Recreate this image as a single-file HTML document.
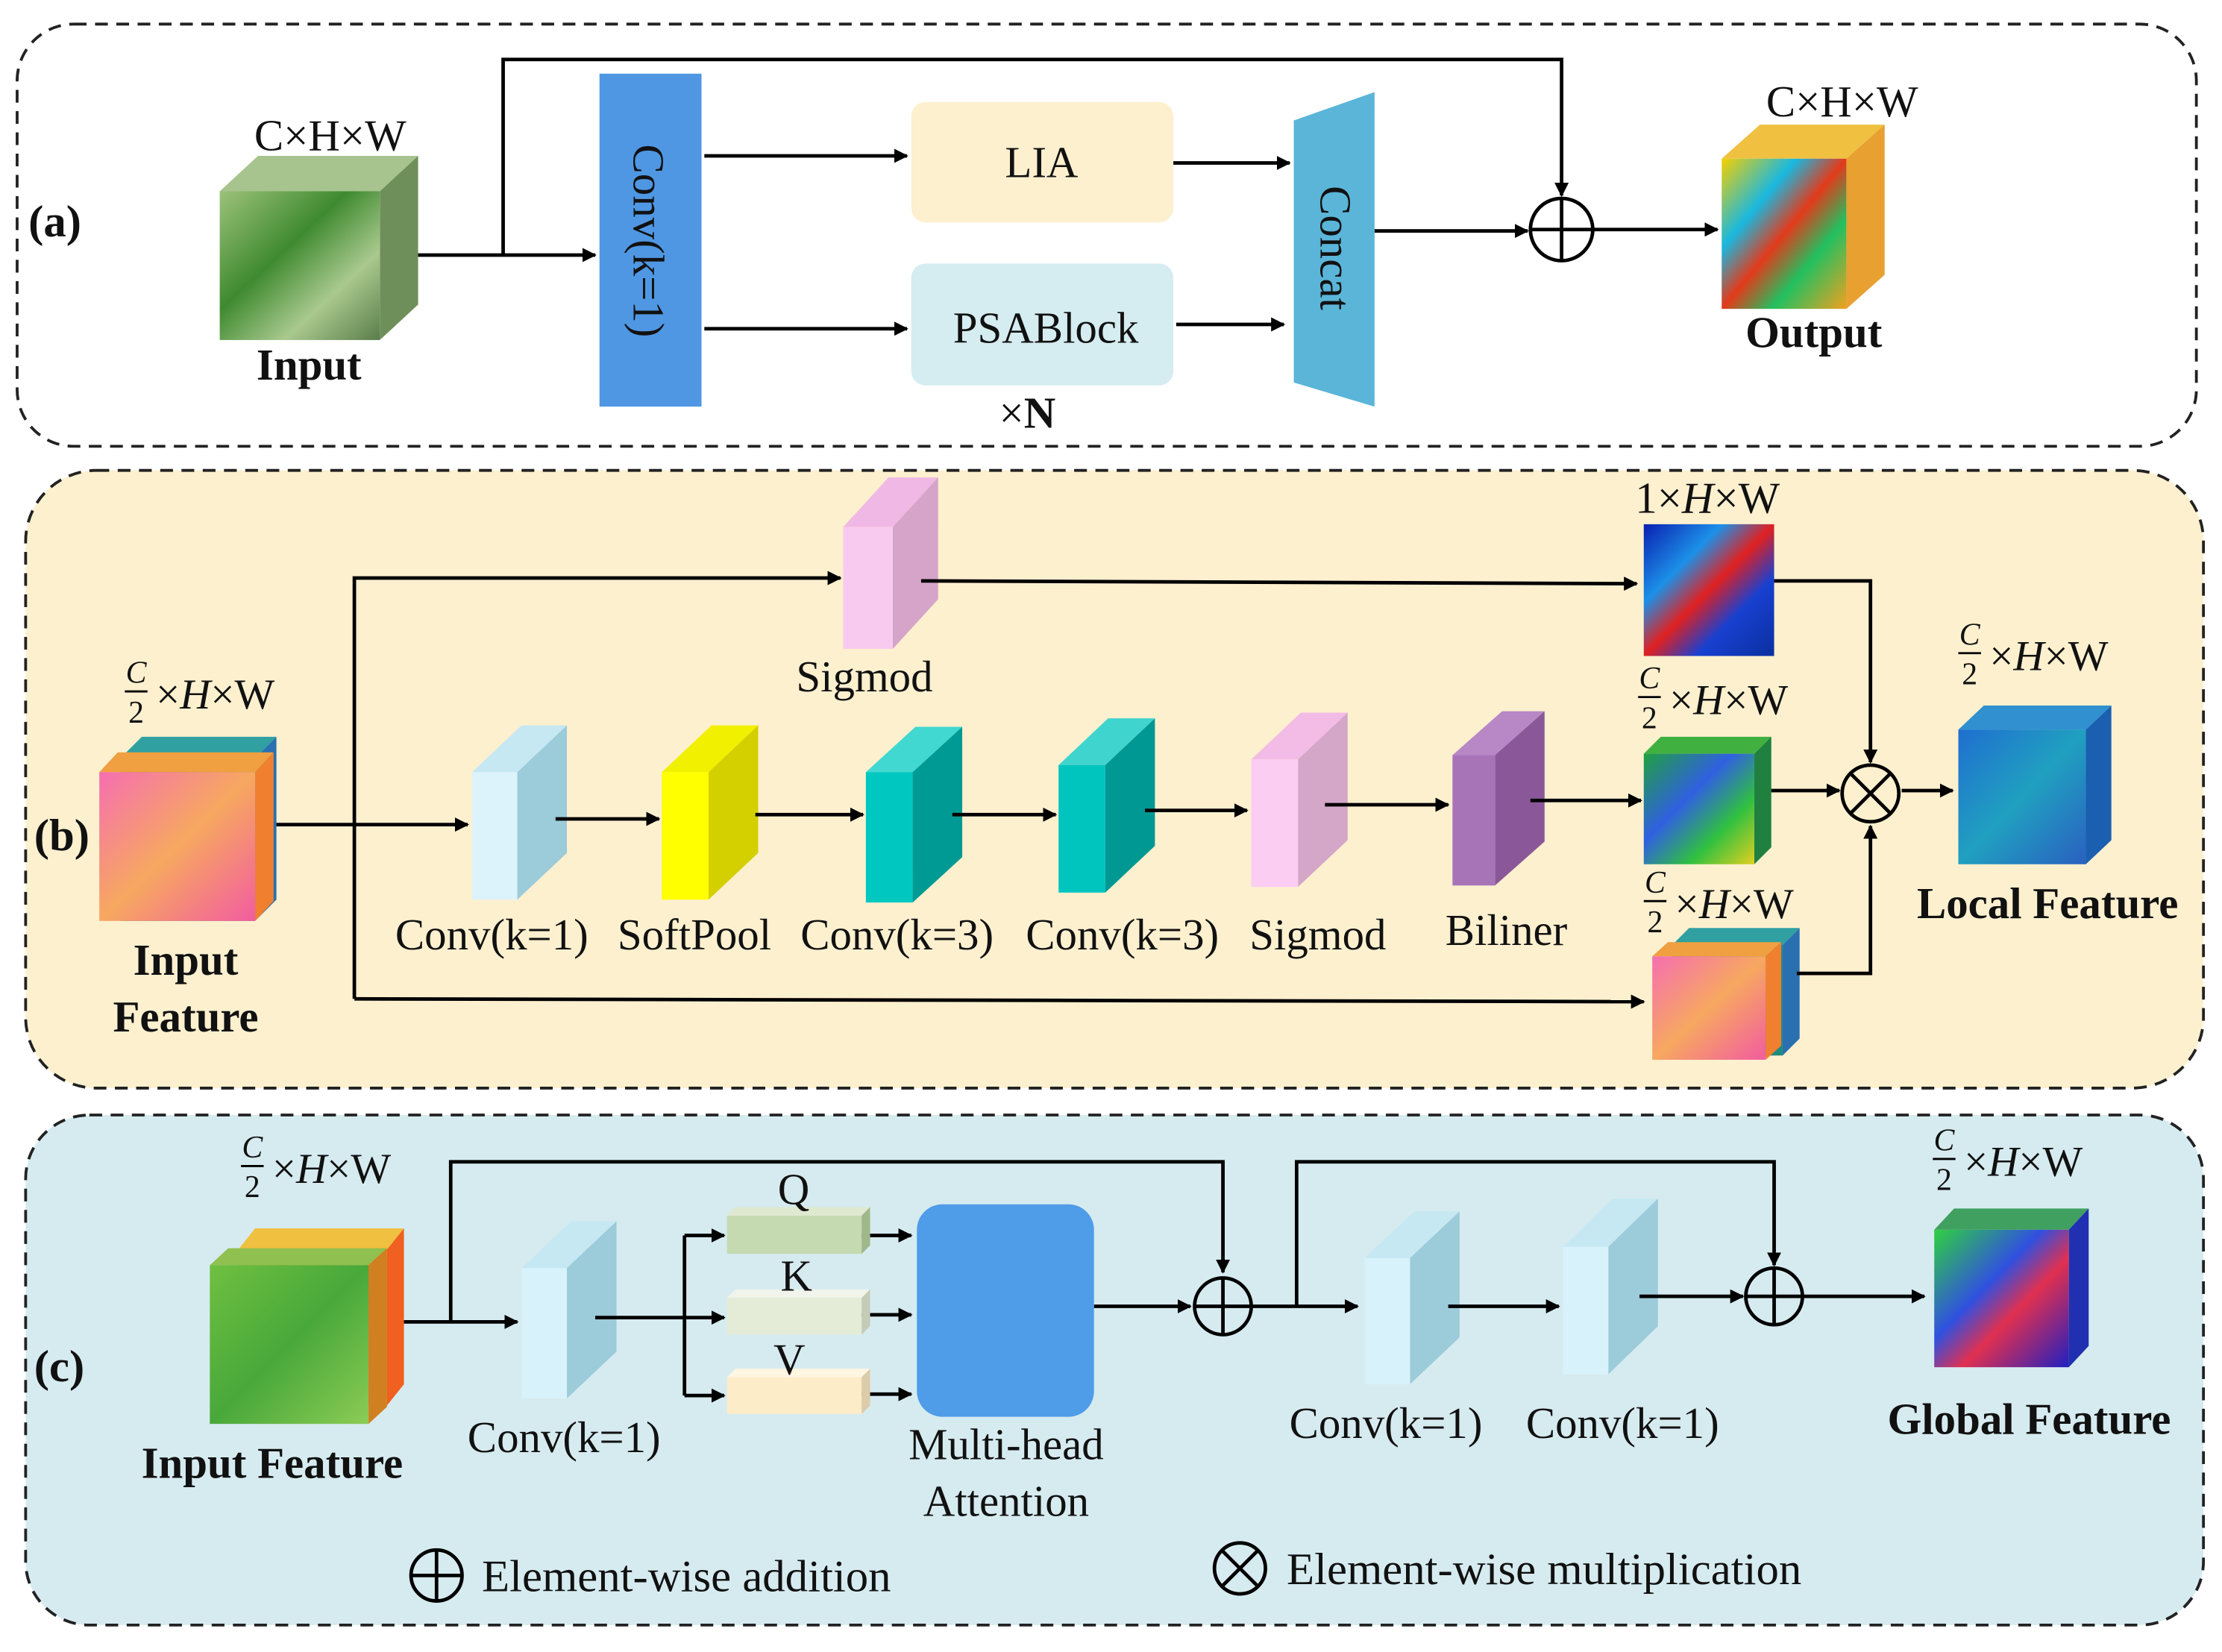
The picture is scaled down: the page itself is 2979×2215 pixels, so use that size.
<!DOCTYPE html>
<html><head><meta charset="utf-8">
<style>
html,body{margin:0;padding:0;background:#fff;}
svg{display:block;}
text{font-family:"Liberation Serif",serif;fill:#111;}
</style></head>
<body>
<svg width="2979" height="2215" viewBox="0 0 1568 1166" xmlns="http://www.w3.org/2000/svg">
<defs>
<marker id="ar" markerWidth="10" markerHeight="10" refX="9" refY="5" orient="auto" markerUnits="userSpaceOnUse"><path d="M0,0 L10,5 L0,10 z" fill="#000"/></marker>
<linearGradient id="gGreen" x1="0" y1="0" x2="1" y2="1"><stop offset="0" stop-color="#9cc27a"/><stop offset="0.4" stop-color="#3f8a30"/><stop offset="0.7" stop-color="#a9c98e"/><stop offset="1" stop-color="#5a7d4a"/></linearGradient>
<linearGradient id="gHeat" x1="0" y1="0" x2="1" y2="1"><stop offset="0" stop-color="#f5d000"/><stop offset="0.3" stop-color="#19b8e0"/><stop offset="0.5" stop-color="#e33a1a"/><stop offset="0.7" stop-color="#22c060"/><stop offset="1" stop-color="#f0a020"/></linearGradient>
<linearGradient id="gPink" x1="0" y1="0" x2="1" y2="1"><stop offset="0" stop-color="#f56fb0"/><stop offset="0.5" stop-color="#f7a860"/><stop offset="1" stop-color="#f25ca0"/></linearGradient>
<linearGradient id="gBlueMap" x1="0" y1="0" x2="1" y2="1"><stop offset="0" stop-color="#0a1fb0"/><stop offset="0.3" stop-color="#1c90e8"/><stop offset="0.5" stop-color="#e02020"/><stop offset="0.7" stop-color="#1840d0"/><stop offset="1" stop-color="#0a2fa0"/></linearGradient>
<linearGradient id="gMid" x1="0" y1="0" x2="1" y2="1"><stop offset="0" stop-color="#20a040"/><stop offset="0.4" stop-color="#3060e0"/><stop offset="0.7" stop-color="#30c040"/><stop offset="1" stop-color="#e0d020"/></linearGradient>
<linearGradient id="gLocal" x1="0" y1="0" x2="1" y2="1"><stop offset="0" stop-color="#1f6fd0"/><stop offset="0.5" stop-color="#20a0c0"/><stop offset="1" stop-color="#2a60c0"/></linearGradient>
<linearGradient id="gGlobal" x1="0" y1="0" x2="1" y2="1"><stop offset="0" stop-color="#30d040"/><stop offset="0.4" stop-color="#3050e0"/><stop offset="0.6" stop-color="#e03050"/><stop offset="1" stop-color="#2020c0"/></linearGradient>
<linearGradient id="gInC" x1="0" y1="0" x2="1" y2="1"><stop offset="0" stop-color="#6fc040"/><stop offset="0.5" stop-color="#48a83a"/><stop offset="1" stop-color="#8ccc55"/></linearGradient>
</defs>

<rect x="12" y="17" width="1538" height="298" rx="40" fill="#fff" stroke="#222" stroke-width="2" stroke-dasharray="9,6"/>
<rect x="18" y="332" width="1537" height="436" rx="50" fill="#fdf0cf" stroke="#222" stroke-width="2" stroke-dasharray="9,6"/>
<rect x="18" y="787" width="1537" height="360" rx="45" fill="#d6ebf0" stroke="#222" stroke-width="2" stroke-dasharray="9,6"/>

<!-- boxes -->
<g>
<polygon points="155,135 182,110 295,110 268,135" fill="#a7c48e"/><polygon points="268,135 295,110 295,215 268,240" fill="#6f8f5a"/><rect x="155" y="135" width="113" height="105" fill="url(#gGreen)"/>
<polygon points="1215,112 1242,88 1330,88 1303,112" fill="#f0c040"/><polygon points="1303,112 1330,88 1330,194 1303,218" fill="#e8a030"/><rect x="1215" y="112" width="88" height="106" fill="url(#gHeat)"/>

<polygon points="595,372 627,337 662,337 630,372" fill="#f0b8e4"/><polygon points="630,372 662,337 662,423 630,458" fill="#d6a4c8"/><rect x="595" y="372" width="35" height="86" fill="#f8caf0"/>
<rect x="1160" y="370" width="92" height="93" fill="url(#gBlueMap)"/>
<polygon points="85,535 100,520 195,520 180,535" fill="#30a0a0"/><polygon points="180,535 195,520 195,635 180,650" fill="#2a70b0"/><rect x="85" y="535" width="95" height="115" fill="#1e8a80"/>
<polygon points="70,545 83,531 193,531 180,545" fill="#f0a040"/><polygon points="180,545 193,531 193,636 180,650" fill="#f08030"/><rect x="70" y="545" width="110" height="105" fill="url(#gPink)"/>
<polygon points="333,545 368,512 400,512 365,545" fill="#c5e8f3"/><polygon points="365,545 400,512 400,602 365,635" fill="#9ccbd9"/><rect x="333" y="545" width="32" height="90" fill="#ddf3fb"/>
<polygon points="467,545 502,512 535,512 500,545" fill="#f0f000"/><polygon points="500,545 535,512 535,602 500,635" fill="#d4d000"/><rect x="467" y="545" width="33" height="90" fill="#ffff00"/>
<polygon points="611,545 646,513 679,513 644,545" fill="#40d8d0"/><polygon points="644,545 679,513 679,605 644,637" fill="#009a94"/><rect x="611" y="545" width="33" height="92" fill="#00c8c0"/>
<polygon points="747,540 782,507 815,507 780,540" fill="#40d4ce"/><polygon points="780,540 815,507 815,597 780,630" fill="#009892"/><rect x="747" y="540" width="33" height="90" fill="#00c4be"/>
<polygon points="883,536 918,503 951,503 916,536" fill="#f2bce6"/><polygon points="916,536 951,503 951,593 916,626" fill="#d4a6c8"/><rect x="883" y="536" width="33" height="90" fill="#fbcdf2"/>
<polygon points="1025,533 1060,502 1090,502 1055,533" fill="#b888c6"/><polygon points="1055,533 1090,502 1090,594 1055,625" fill="#8a5898"/><rect x="1025" y="533" width="30" height="92" fill="#a874b8"/>
<polygon points="1160,532 1172,520 1250,520 1238,532" fill="#40b040"/><polygon points="1238,532 1250,520 1250,598 1238,610" fill="#208040"/><rect x="1160" y="532" width="78" height="78" fill="url(#gMid)"/>
<polygon points="1180,667 1192,655 1270,655 1258,667" fill="#30a0a0"/><polygon points="1258,667 1270,655 1270,733 1258,745" fill="#2a70b0"/><rect x="1180" y="667" width="78" height="78" fill="#1e8a80"/>
<polygon points="1166,675 1177,665 1257,665 1246,675" fill="#f0a040"/><polygon points="1246,675 1257,665 1257,738 1246,748" fill="#f08030"/><rect x="1166" y="675" width="80" height="73" fill="url(#gPink)"/>
<polygon points="1382,515 1400,498 1490,498 1472,515" fill="#3090d0"/><polygon points="1472,515 1490,498 1490,593 1472,610" fill="#1a5fb0"/><rect x="1382" y="515" width="90" height="95" fill="url(#gLocal)"/>

<polygon points="168,882 180,867 285,867 273,882" fill="#f0c040"/><polygon points="273,882 285,867 285,977 273,992" fill="#f06020"/><rect x="168" y="882" width="105" height="110" fill="#e09020"/>
<polygon points="148,893 161,881 273,881 260,893" fill="#90c050"/><polygon points="260,893 273,881 273,993 260,1005" fill="#d08020"/><rect x="148" y="893" width="112" height="112" fill="url(#gInC)"/>
<polygon points="368,895 403,862 435,862 400,895" fill="#c5e8f3"/><polygon points="400,895 435,862 435,954 400,987" fill="#9ccbd9"/><rect x="368" y="895" width="32" height="92" fill="#d8f2fb"/>
<polygon points="963,888 998,855 1030,855 995,888" fill="#c5e8f3"/><polygon points="995,888 1030,855 1030,944 995,977" fill="#9ccbd9"/><rect x="963" y="888" width="32" height="89" fill="#d8f2fb"/>
<polygon points="1103,880 1138,846 1170,846 1135,880" fill="#c5e8f3"/><polygon points="1135,880 1170,846 1170,936 1135,970" fill="#9ccbd9"/><rect x="1103" y="880" width="32" height="90" fill="#d8f2fb"/>
<polygon points="1365,868 1379,853 1474,853 1460,868" fill="#40a060"/><polygon points="1460,868 1474,853 1474,950 1460,965" fill="#2030b0"/><rect x="1365" y="868" width="95" height="97" fill="url(#gGlobal)"/>
</g>

<g stroke="#000" stroke-width="2.5" fill="none">
<path d="M295,180 L420,180" marker-end="url(#ar)"/>
<path d="M355,180 L355,42 L1102,42 L1102,138" marker-end="url(#ar)"/>
<path d="M497,110 L640,110" marker-end="url(#ar)"/>
<path d="M497,232 L640,232" marker-end="url(#ar)"/>
<path d="M822,115 L910,115" marker-end="url(#ar)"/>
<path d="M830,229 L906,229" marker-end="url(#ar)"/>
<path d="M970,163 L1078,163" marker-end="url(#ar)"/>
<path d="M1125,162 L1212,162" marker-end="url(#ar)"/>
<circle cx="1102" cy="162" r="22"/><path d="M1080,162 H1124 M1102,140 V184"/>
<path d="M250,705 L250,408 L593,408" marker-end="url(#ar)"/>
<path d="M650,410 L1155,412" marker-end="url(#ar)"/>
<path d="M1252,410 L1320,410 L1320,538" marker-end="url(#ar)"/>
<path d="M195,582 L330,582" marker-end="url(#ar)"/>
<path d="M392,578 L465,578" marker-end="url(#ar)"/>
<path d="M533,575 L609,575" marker-end="url(#ar)"/>
<path d="M672,575 L745,575" marker-end="url(#ar)"/>
<path d="M808,572 L880,572" marker-end="url(#ar)"/>
<path d="M935,568 L1022,568" marker-end="url(#ar)"/>
<path d="M1080,565 L1158,565" marker-end="url(#ar)"/>
<path d="M1250,558 L1298,558" marker-end="url(#ar)"/>
<path d="M1342,558 L1378,558" marker-end="url(#ar)"/>
<path d="M250,705 L1160,707" marker-end="url(#ar)"/>
<path d="M1268,687 L1320,687 L1320,583" marker-end="url(#ar)"/>
<circle cx="1320" cy="560" r="20"/><path d="M1306,546 L1334,574 M1334,546 L1306,574"/>
<path d="M285,933 L365,933" marker-end="url(#ar)"/>
<path d="M318,933 L318,820 L863,820 L863,898" marker-end="url(#ar)"/>
<path d="M420,930 L483,930"/>
<path d="M483,872 L483,985"/>
<path d="M483,872 L511,872" marker-end="url(#ar)"/>
<path d="M483,930 L511,930" marker-end="url(#ar)"/>
<path d="M483,985 L511,985" marker-end="url(#ar)"/>
<path d="M608,872 L643,872" marker-end="url(#ar)"/>
<path d="M608,928 L643,928" marker-end="url(#ar)"/>
<path d="M608,984 L643,984" marker-end="url(#ar)"/>
<path d="M772,922 L840,922" marker-end="url(#ar)"/>
<circle cx="863" cy="922" r="20"/><path d="M843,922 H883 M863,902 V942"/>
<path d="M883,922 L958,922" marker-end="url(#ar)"/>
<path d="M915,922 L915,820 L1252,820 L1252,893" marker-end="url(#ar)"/>
<path d="M1022,922 L1100,922" marker-end="url(#ar)"/>
<path d="M1157,915 L1230,915" marker-end="url(#ar)"/>
<circle cx="1252" cy="915" r="20"/><path d="M1232,915 H1272 M1252,895 V935"/>
<path d="M1272,915 L1358,915" marker-end="url(#ar)"/>
<circle cx="308" cy="1112" r="18"/><path d="M290,1112 H326 M308,1094 V1130"/>
<circle cx="875" cy="1107" r="18"/><path d="M862,1094 L888,1120 M888,1094 L862,1120"/>
</g>

<rect x="423" y="52" width="72" height="235" fill="#4f97e3"/>
<rect x="643" y="72" width="185" height="85" rx="10" fill="#fdf0cf"/>
<rect x="643" y="186" width="185" height="86" rx="10" fill="#d5ecf0"/>
<polygon points="913,85 970,65 970,287 913,270" fill="#5bb5d8"/>
<rect x="647" y="850" width="125" height="150" rx="18" fill="#4f9ce8"/>
<rect x="513" y="858" width="95" height="27" fill="#c5dab0"/><polygon points="513,858 519,852 614,852 608,858" fill="#dfe9d0"/><polygon points="608,858 614,852 614,879 608,885" fill="#9fb88a"/>
<rect x="513" y="916" width="95" height="26" fill="#e4ecd8"/><polygon points="513,916 519,910 614,910 608,916" fill="#f0f4ea"/><polygon points="608,916 614,910 614,936 608,942" fill="#c4ccb8"/>
<rect x="513" y="972" width="95" height="26" fill="#fcecc8"/><polygon points="513,972 519,966 614,966 608,972" fill="#fff6e2"/><polygon points="608,972 614,966 614,992 608,998" fill="#dcccaa"/>

<g font-size="31">
<text x="20" y="167" font-weight="bold" font-size="32">(a)</text>
<text x="24" y="600" font-weight="bold" font-size="32">(b)</text>
<text x="24" y="975" font-weight="bold" font-size="32">(c)</text>
<text x="233" y="106" text-anchor="middle">C×H×W</text>
<text x="218" y="268" text-anchor="middle" font-weight="bold">Input</text>
<text x="1300" y="82" text-anchor="middle">C×H×W</text>
<text x="1280" y="245" text-anchor="middle" font-weight="bold">Output</text>
<text x="735" y="125" text-anchor="middle">LIA</text>
<text x="738" y="242" text-anchor="middle">PSABlock</text>
<text x="725" y="302" text-anchor="middle">×<tspan font-weight="bold">N</tspan></text>
<text transform="translate(447,170) rotate(90)" text-anchor="middle">Conv(k=1)</text>
<text transform="translate(932,175) rotate(90)" text-anchor="middle">Concat</text>
<text x="610" y="488" text-anchor="middle">Sigmod</text>
<text x="1205" y="362" text-anchor="middle">1×<tspan font-style="italic">H</tspan>×W</text>
<text x="347" y="670" text-anchor="middle">Conv(k=1)</text>
<text x="490" y="670" text-anchor="middle">SoftPool</text>
<text x="633" y="670" text-anchor="middle">Conv(k=3)</text>
<text x="792" y="670" text-anchor="middle">Conv(k=3)</text>
<text x="930" y="670" text-anchor="middle">Sigmod</text>
<text x="1063" y="667" text-anchor="middle">Biliner</text>
<text x="131" y="688" text-anchor="middle" font-weight="bold">Input</text>
<text x="131" y="728" text-anchor="middle" font-weight="bold">Feature</text>
<text x="1445" y="648" text-anchor="middle" font-weight="bold">Local Feature</text>
<text x="192" y="1043" text-anchor="middle" font-weight="bold">Input Feature</text>
<text x="398" y="1025" text-anchor="middle">Conv(k=1)</text>
<text x="560" y="850" text-anchor="middle">Q</text>
<text x="562" y="911" text-anchor="middle">K</text>
<text x="557" y="970" text-anchor="middle">V</text>
<text x="710" y="1030" text-anchor="middle">Multi-head</text>
<text x="710" y="1070" text-anchor="middle">Attention</text>
<text x="978" y="1015" text-anchor="middle">Conv(k=1)</text>
<text x="1145" y="1015" text-anchor="middle">Conv(k=1)</text>
<text x="1432" y="1012" text-anchor="middle" font-weight="bold">Global Feature</text>
<text x="340" y="1123" font-size="32">Element-wise addition</text>
<text x="908" y="1118" font-size="32">Element-wise multiplication</text>
</g>

<!-- fraction labels -->
<g font-size="30">
<text x="96" y="482" font-size="22" font-style="italic" text-anchor="middle">C</text><line x1="88" y1="488" x2="104" y2="488" stroke="#000" stroke-width="1.5"/><text x="96" y="510" font-size="22" text-anchor="middle">2</text><text x="110" y="500">×<tspan font-style="italic">H</tspan>×W</text>
<text x="1164" y="486" font-size="22" font-style="italic" text-anchor="middle">C</text><line x1="1156" y1="492" x2="1172" y2="492" stroke="#000" stroke-width="1.5"/><text x="1164" y="514" font-size="22" text-anchor="middle">2</text><text x="1178" y="504">×<tspan font-style="italic">H</tspan>×W</text>
<text x="1390" y="455" font-size="22" font-style="italic" text-anchor="middle">C</text><line x1="1382" y1="461" x2="1398" y2="461" stroke="#000" stroke-width="1.5"/><text x="1390" y="483" font-size="22" text-anchor="middle">2</text><text x="1404" y="473">×<tspan font-style="italic">H</tspan>×W</text>
<text x="1168" y="630" font-size="22" font-style="italic" text-anchor="middle">C</text><line x1="1160" y1="636" x2="1176" y2="636" stroke="#000" stroke-width="1.5"/><text x="1168" y="658" font-size="22" text-anchor="middle">2</text><text x="1182" y="648">×<tspan font-style="italic">H</tspan>×W</text>
<text x="178" y="817" font-size="22" font-style="italic" text-anchor="middle">C</text><line x1="170" y1="823" x2="186" y2="823" stroke="#000" stroke-width="1.5"/><text x="178" y="845" font-size="22" text-anchor="middle">2</text><text x="192" y="835">×<tspan font-style="italic">H</tspan>×W</text>
<text x="1372" y="812" font-size="22" font-style="italic" text-anchor="middle">C</text><line x1="1364" y1="818" x2="1380" y2="818" stroke="#000" stroke-width="1.5"/><text x="1372" y="840" font-size="22" text-anchor="middle">2</text><text x="1386" y="830">×<tspan font-style="italic">H</tspan>×W</text>
</g>
</svg>
</body></html>
